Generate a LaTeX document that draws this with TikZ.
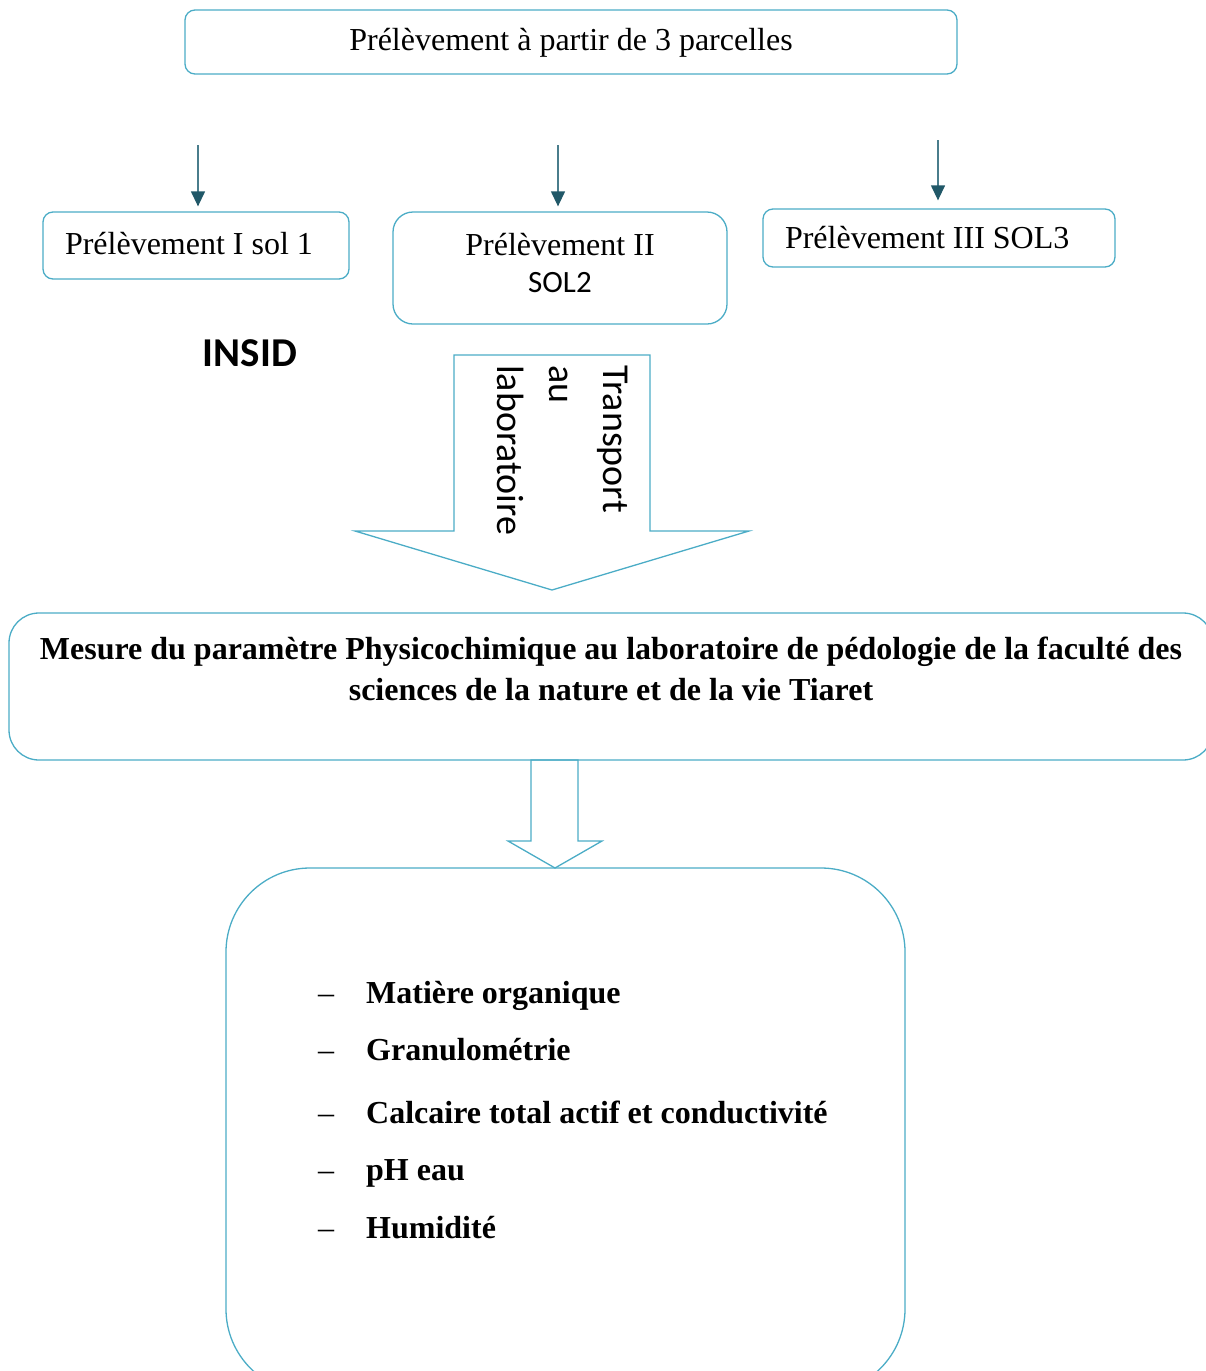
\documentclass[tikz,border=0pt]{standalone}
\usepackage{fontspec}
\setmainfont{Liberation Serif}
\newfontfamily\calibri{Carlito}
\usetikzlibrary{arrows.meta, calc, positioning}
\definecolor{mAqua}{HTML}{4BACC6}
\definecolor{mPetrole}{HTML}{215868}
\definecolor{mTrait}{HTML}{4A7D8C}
\newcommand{\corps}{\fontsize{32}{40}\selectfont}

\tikzset{
  boite/.style={draw=mAqua, line width=1.3pt, rounded corners=10pt, text height=24pt, text depth=7pt},
  fil/.style={mTrait, line width=1.3pt, -{Triangle[width=14pt, length=15pt, color=mPetrole]}},
  bloc/.style={draw=mAqua, line width=1.3pt, line join=miter},
}

\begin{document}
\begin{tikzpicture}[x=1pt, y=-1pt, font=\corps]
  \useasboundingbox (0,0) rectangle (1206,1371);
  \clip (0,0) rectangle (1206,1371);
  % trois parcelles
  \node[boite, minimum width=772pt, minimum height=64pt] (haut) at (571,42) {Prélèvement à partir de 3 parcelles};
  \node[boite, minimum width=306pt, minimum height=67pt, inner xsep=22pt, text width=262pt, align=flush left] (sol1) at (196,245.5) {Prélèvement I sol 1};
  \node[boite, rounded corners=20pt, minimum width=334pt, minimum height=112pt, align=center, text height=, text depth=] (sol2) at (560,268) {Prélèvement II\\[-3pt]{\calibri\fontsize{31}{38}\selectfont SOL2}\rule[-10pt]{0pt}{0pt}};
  \node[boite, minimum width=352pt, minimum height=58pt, inner xsep=22pt, text width=308pt, align=flush left, text depth=3pt] (sol3) at (939,238) {Prélèvement III SOL3};
  \coordinate (d1) at (198,145);
  \coordinate (d2) at (558,145);
  \coordinate (d3) at (938,140);
  \draw[fil, shorten >=5pt] (d1) -- (d1 |- sol1.north);
  \draw[fil, shorten >=5pt] (d2) -- (d2 |- sol2.north);
  \draw[fil, shorten >=8pt] (d3) -- (d3 |- sol3.north);
  \node[anchor=base, font=\calibri\fontsize{41}{49}\selectfont\bfseries] (insid) at (250,366) {INSID};
  % transport
  \draw[bloc] (454,355) -- (650,355) -- (650,531) -- (749,531) -- (552,590) -- (355,531) -- (454,531) -- cycle;
  \foreach \xb/\mot [count=\i] in {603/Transport, 549/au, 497/laboratoire}
    \node[rotate=-90, anchor=base west, inner sep=0pt, font=\calibri\fontsize{38}{46}\selectfont] (mot\i) at (\xb,365) {\mot};
  % laboratoire
  \node[boite, rounded corners=30pt, minimum width=1204pt, minimum height=147pt, text height=, text depth=] (mesure) at (611,686.5) {};
  \node[anchor=base, align=center, font=\corps\bfseries] (mesuretxt) at (611,700) {Mesure du paramètre Physicochimique au laboratoire de pédologie de la faculté des\\[1pt] sciences de la nature et de la vie Tiaret};
  \draw[bloc] (531,760) -- (578,760) -- (578,841) -- (602,841) -- (555,868) -- (508,841) -- (531,841) -- cycle;
  % analyses
  \node[boite, rounded corners=84pt, minimum width=679pt, minimum height=525pt, text height=, text depth=] (analyses) at (565.5,1130.5) {};
  \foreach \yb/\txt [count=\i] in {1003/Matière organique, 1060/Granulométrie, 1123/Calcaire total actif et conductivité, 1180/pH eau, 1238/Humidité}{
    \node[anchor=base west, inner sep=0pt] (tiret\i) at (318,\yb) {–};
    \node[anchor=base west, inner sep=0pt, font=\corps\bfseries] (item\i) at (366,\yb) {\txt};
  }
\end{tikzpicture}
\end{document}
